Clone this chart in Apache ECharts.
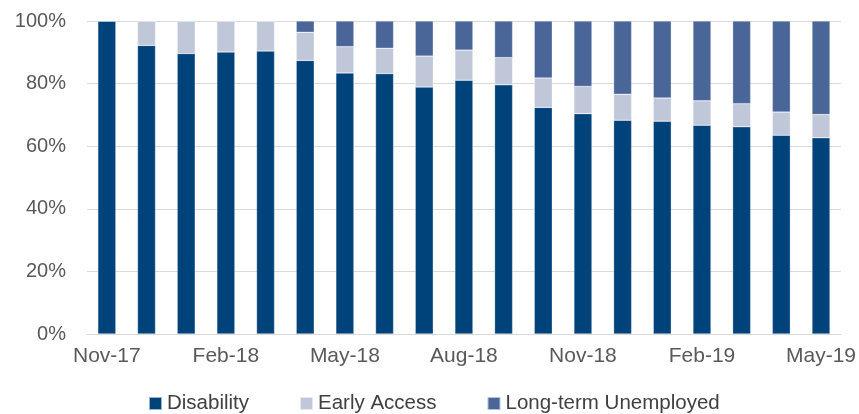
<!DOCTYPE html>
<html><head><meta charset="utf-8">
<script src="https://cdn.jsdelivr.net/npm/echarts@6/dist/echarts.min.js"></script>
<style>html,body{margin:0;padding:0;background:#fff}#c{width:859px;height:414px}</style>
</head><body><div id="c"></div>
<script>
var categories = ['Nov-17','Dec-17','Jan-18','Feb-18','Mar-18','Apr-18','May-18','Jun-18','Jul-18','Aug-18','Sep-18','Oct-18','Nov-18','Dec-18','Jan-19','Feb-19','Mar-19','Apr-19','May-19'];
var disability = [100, 92.2, 89.6, 90.1, 90.4, 87.4, 83.4, 83.2, 78.9, 81.1, 79.6, 72.4, 70.4, 68.3, 68.0, 66.7, 66.2, 63.5, 62.7];
var earlyAccess = [0, 7.8, 10.4, 9.9, 9.6, 9.0, 8.4, 8.1, 9.9, 9.6, 8.7, 9.4, 8.7, 8.3, 7.4, 7.8, 7.4, 7.4, 7.4];
var longTermUnemployed = [0, 0, 0, 0, 0, 3.6, 8.2, 8.7, 11.2, 9.3, 11.7, 18.2, 20.9, 23.4, 24.6, 25.5, 26.4, 29.1, 29.9];
var yTicks = [0, 20, 40, 60, 80, 100];

var font = 'Liberation Sans, Arial, sans-serif';
var chart = echarts.init(document.getElementById('c'));
function ser(name, data, color) {
  return {
    name: name, type: 'bar', stack: 'total', data: data, barWidth: 18,
    itemStyle: { color: color, borderColor: 'rgba(255,255,255,0.6)', borderWidth: 0.5 },
    emphasis: { disabled: true }
  };
}
chart.setOption({
  animation: false,
  grid: { left: 87, right: 18, top: 21, bottom: 80 },
  legend: {
    top: 393, left: 148, itemWidth: 13, itemHeight: 13, itemGap: 50,
    icon: 'rect', padding: 0,
    textStyle: { fontFamily: font, fontSize: 20.5, color: '#404040' },
    data: ['Disability', 'Early Access', 'Long-term Unemployed']
  },
  xAxis: {
    type: 'category', data: categories,
    axisLine: { lineStyle: { color: '#d9d9d9', width: 1 } },
    axisTick: { show: false },
    axisLabel: { interval: 2, fontFamily: font, fontSize: 21, color: '#595959', margin: 12 }
  },
  yAxis: {
    type: 'value', min: yTicks[0], max: yTicks[yTicks.length - 1], interval: 20,
    axisLine: { show: false }, axisTick: { show: false },
    splitLine: { lineStyle: { color: '#d9d9d9', width: 1 } },
    axisLabel: { formatter: '{value}%', fontFamily: font, fontSize: 20, color: '#595959', margin: 21 }
  },
  series: [
    ser('Disability', disability, '#00427a'),
    ser('Early Access', earlyAccess, '#bfc7d9'),
    ser('Long-term Unemployed', longTermUnemployed, '#4a6698')
  ]
});
</script></body></html>
